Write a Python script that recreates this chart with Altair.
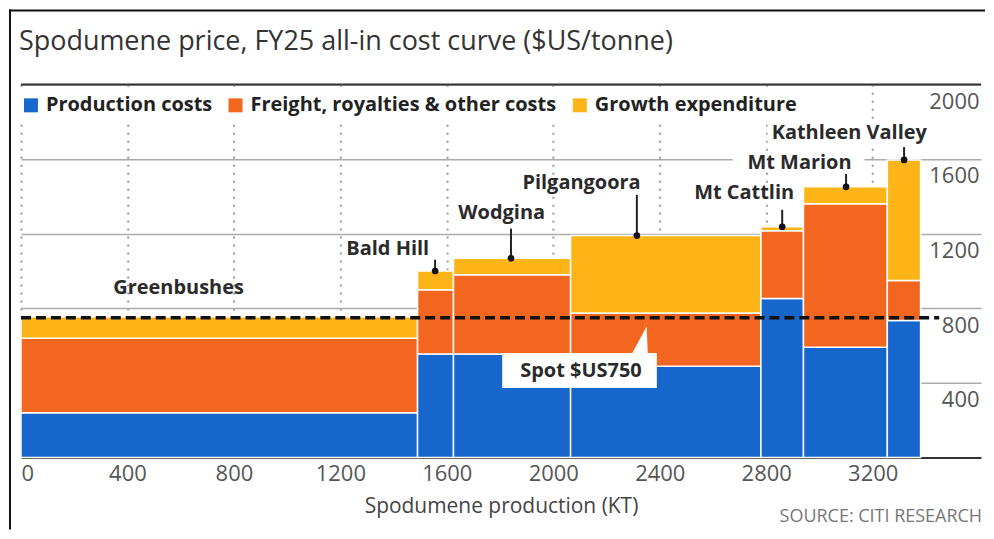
import altair as alt
import pandas as pd

FONT = "Open Sans"

# ---- data ----
mines = ["Greenbushes", "Bald Hill", "Wodgina", "Pilgangoora",
         "Mt Cattlin", "Mt Marion", "Kathleen Valley"]
production_kt = [1490, 135, 440, 715, 160, 315, 125]
production_costs = [240, 555, 555, 490, 853, 592, 735]
freight_other = [400, 345, 425, 285, 363, 768, 214]
growth_capex = [115, 100, 88, 415, 21, 91, 646]

components = ["Production costs", "Freight, royalties & other costs", "Growth expenditure"]
colors = ["#1766CC", "#F3661F", "#FCB416"]

spot_price = 750
spot_label = "Spot $US750"

x_ticks = [0, 400, 800, 1200, 1600, 2000, 2400, 2800, 3200]
y_ticks = [400, 800, 1200, 1600, 2000]

# annotation placement (data units)
label_x = [592, 1378, 1806, 2106, 2717, 2925, 3112]
label_y = [875, 1085, 1280, 1440, 1387, 1547, 1707]
leader_mines = ["Bald Hill", "Wodgina", "Pilgangoora", "Mt Cattlin", "Mt Marion", "Kathleen Valley"]
leader_x = [1556, 1841, 2314, 2860, 3100, 3318]
leader_top = [1061, 1227, 1408, 1328, 1520, 1664]

title_text = "Spodumene price, FY25 all-in cost curve ($US/tonne)"
source_text = "SOURCE: CITI RESEARCH"

# ---- tables ----
rows = []
start = 0
for i, m in enumerate(mines):
    end = start + production_kt[i]
    base = 0
    for comp, vals in zip(components, [production_costs, freight_other, growth_capex]):
        rows.append(dict(mine=m, component=comp, x0=start, x1=end, y0=base, y1=base + vals[i]))
        base += vals[i]
    start = end
bars_df = pd.DataFrame(rows)

totals = {m: production_costs[i] + freight_other[i] + growth_capex[i] for i, m in enumerate(mines)}
leader_df = pd.DataFrame({"mine": leader_mines, "x": leader_x, "top": leader_top,
                          "bottom": [totals[m] for m in leader_mines]})
labels_df = pd.DataFrame({"mine": mines, "x": label_x, "y": label_y})

xscale = alt.Scale(domain=[0, 3607], nice=False, zero=False)
yscale = alt.Scale(domain=[0, 2000], nice=False)

bars = alt.Chart(bars_df).mark_rect(stroke="white", strokeWidth=1.5).encode(
    x=alt.X("x0:Q", scale=xscale, axis=alt.Axis(
        title="Spodumene production (KT)", values=x_ticks, format="d", grid=True,
        gridDash=[2, 6], gridColor="#9a9a9a", gridWidth=2, ticks=False,
        domainColor="#333", domainWidth=2, labelFont=FONT, labelFontSize=22,
        labelColor="#555", labelPadding=6, labelFlush=True,
        titleFont=FONT, titleFontSize=21, titleFontWeight="normal",
        titleColor="#444", titleY=55, titleBaseline="alphabetic")),
    x2="x1:Q",
    y=alt.Y("y0:Q", scale=yscale, axis=alt.Axis(
        title=None, orient="right", values=y_ticks, format="d", grid=True,
        gridColor="#aaaaaa", gridWidth=1.5, ticks=False, domain=False,
        labelAlign="right", labelPadding=-2, labelBaseline="top", labelOffset=7,
        labelFont=FONT, labelFontSize=22, labelColor="#555")),
    y2="y1:Q",
    color=alt.Color("component:N", scale=alt.Scale(domain=components, range=colors),
                    legend=alt.Legend(
                        title=None, orient="none", legendX=-4, legendY=7,
                        direction="horizontal", symbolType="square", symbolSize=196,
                        symbolStrokeWidth=0, labelFont=FONT, labelFontSize=20,
                        labelFontWeight="bold", labelColor="#222", labelOffset=5,
                        columnPadding=13, padding=4, fillColor="white", labelLimit=400)),
)

top_line = alt.Chart(pd.DataFrame({"y": [2000]})).mark_rule(color="#333", strokeWidth=2).encode(
    y=alt.Y("y:Q", scale=yscale))

spot_df = pd.DataFrame({"x0": [0], "x1": [3450], "y": [spot_price]})
spot_line = alt.Chart(spot_df).mark_rule(color="#111", strokeWidth=3.5, strokeDash=[10, 5]).encode(
    x=alt.X("x0:Q", scale=xscale), x2="x1:Q", y=alt.Y("y:Q", scale=yscale))

box_df = pd.DataFrame({"x0": [1808], "x1": [2389], "y0": [373], "y1": [560]})
spot_box = alt.Chart(box_df).mark_rect(color="white").encode(
    x=alt.X("x0:Q", scale=xscale), x2="x1:Q", y=alt.Y("y0:Q", scale=yscale), y2="y1:Q")

tri_df = pd.DataFrame({"x": [2295, 2351, 2355], "y": [555, 704, 555], "y2": [555, 555, 555]})
spot_pointer = alt.Chart(tri_df).mark_area(color="white").encode(
    x=alt.X("x:Q", scale=xscale), y=alt.Y("y:Q", scale=yscale), y2="y2:Q")

spot_text = alt.Chart(pd.DataFrame({"x": [2104], "y": [432], "t": [spot_label]})).mark_text(
    font=FONT, fontSize=20, fontWeight="bold", color="#2a2a2a", baseline="alphabetic").encode(
    x=alt.X("x:Q", scale=xscale), y=alt.Y("y:Q", scale=yscale), text="t:N")

bg_df = pd.DataFrame({"x0": [2674, 2805], "x1": [3169, 3420], "y0": [1531, 1675], "y1": [1643, 1808]})
label_bg = alt.Chart(bg_df).mark_rect(color="white").encode(
    x=alt.X("x0:Q", scale=xscale), x2="x1:Q", y=alt.Y("y0:Q", scale=yscale), y2="y1:Q")

leaders = alt.Chart(leader_df).mark_rule(color="#222", strokeWidth=2).encode(
    x=alt.X("x:Q", scale=xscale), y=alt.Y("top:Q", scale=yscale), y2="bottom:Q")
dots = alt.Chart(leader_df).mark_point(filled=True, color="#111", size=45, opacity=1).encode(
    x=alt.X("x:Q", scale=xscale), y=alt.Y("bottom:Q", scale=yscale))

mine_labels = alt.Chart(labels_df).mark_text(
    font=FONT, fontSize=20, fontWeight="bold", color="#2a2a2a", baseline="alphabetic").encode(
    x=alt.X("x:Q", scale=xscale), y=alt.Y("y:Q", scale=yscale), text="mine:N")

title = alt.Chart(pd.DataFrame({"t": [title_text]})).mark_text(
    font=FONT, fontSize=27, color="#333", align="left", baseline="alphabetic").encode(
    x=alt.value(-2), y=alt.value(-34), text="t:N")

source = alt.Chart(pd.DataFrame({"t": [source_text]})).mark_text(
    font=FONT, fontSize=18, color="#777", align="right", baseline="alphabetic").encode(
    x=alt.value(963), y=alt.value(439), text="t:N")

frame_left = alt.Chart(pd.DataFrame({"a": [0]})).mark_rule(color="#111", strokeWidth=2).encode(
    x=alt.value(-11), y=alt.value(-75), y2=alt.value(446))
frame_top = alt.Chart(pd.DataFrame({"a": [0]})).mark_rule(color="#111", strokeWidth=2).encode(
    x=alt.value(-12), x2=alt.value(966), y=alt.value(-74))

chart = alt.layer(
    bars, top_line, spot_line, spot_box, spot_pointer, spot_text,
    label_bg, leaders, dots, mine_labels, title, source, frame_left, frame_top
).properties(width=962, height=374, padding=0, background="white").configure_view(stroke=None)

chart.save("out.html", embed_options={"renderer": "svg", "actions": False})
